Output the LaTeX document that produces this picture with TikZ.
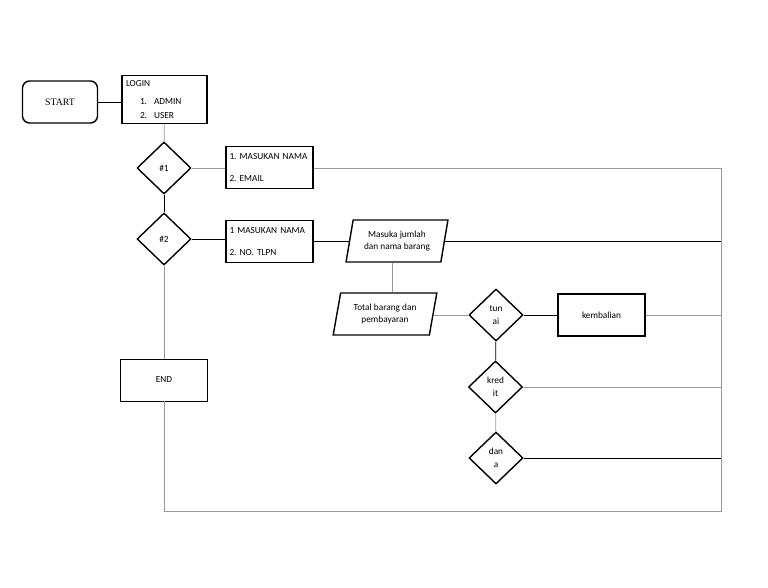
\documentclass[tikz,border=0pt]{standalone}
\usepackage{fontspec}
\setmainfont{Carlito}
\newfontfamily\startfont{Liberation Serif}
\usetikzlibrary{shapes.geometric}

\tikzset{
  txt/.style={font=\fontsize{5.3}{7.2}\selectfont\frenchspacing},
  box/.style={draw, thick, txt, minimum width=1.74cm, minimum height=0.84cm, inner sep=1pt},
  decision/.style={diamond, draw, thick, txt, minimum width=1.08cm, minimum height=1.04cm, inner sep=0pt, align=center},
  data/.style={trapezium, trapezium left angle=77, trapezium right angle=103, trapezium stretches=true,
    draw, thick, txt, minimum height=0.84cm, inner sep=1pt, align=center},
  grayline/.style={draw=black!40},
  blackline/.style={draw=black}
}

\begin{document}
\begin{tikzpicture}[x=0.02cm, y=-0.02cm]
	\useasboundingbox (0,0) rectangle (768,588);

	% start and login
	\node[box, rounded corners=4pt, minimum width=1.5cm, font=\startfont\fontsize{5.6}{7}\selectfont] (start) at (60,102) {START};
	\node[box, minimum width=1.7cm, minimum height=0.96cm, align=left, inner xsep=0.08cm, text width=1.54cm] (login) at (164.5,99.5)
		{LOGIN\\[3pt]\hspace{0.28cm}1.\hspace{0.14cm}ADMIN\\[0.8pt]\hspace{0.28cm}2.\hspace{0.14cm}USER};

	% choices
	\node[decision] (d1) at (164,168) {\#1};
	\node[decision] (d2) at (164,239) {\#2};
	\node[box, align=left, inner xsep=0.05cm, text width=1.6cm] (nama1) at (269.5,167.5) {1. MASUKAN NAMA\\[5pt]2. EMAIL};
	\node[box, align=left, inner xsep=0.05cm, text width=1.6cm] (nama2) at (269.5,241.5) {1 MASUKAN NAMA\\[5pt]2. NO. TLPN};
	\node[box, thin] (end) at (164,380) {END};

	% barang and payment
	\node[data, minimum width=2.04cm] (barang) at (397,241) {Masuka jumlah\\dan nama barang};
	\node[data, minimum width=2.08cm] (total) at (385,314) {Total barang dan\\pembayaran};
	\node[decision] (tunai) at (496,315) {tun\\ai};
	\node[decision] (kredit) at (495.5,387) {kred\\it};
	\node[decision] (dana) at (496,458) {dan\\a};
	\node[box] (kembali) at (601.5,315) {kembalian};

	\coordinate (rtop) at (721,168);
	\coordinate (rbot) at (721,511);
	\coordinate (lbot) at (164,511);

	% connectors
	\draw[blackline] (start.east) -- (start.east -| login.west);
	\draw[grayline] (login) -- (d1);
	\draw[grayline] (d1.east) -- (d1.east -| nama1.west);
	\draw[grayline] (d1.east -| nama1.east) -- (rtop) -- (rbot) -- (lbot) -- (end);
	\draw[blackline] (d1) -- (d2);
	\draw[grayline] (d2) -- (end);
	\draw[blackline] (d2.east) -- (d2.east -| nama2.west);
	\draw[blackline] (nama2.east) -- (nama2.east -| barang.west);
	\draw[blackline] (barang.east) -- (barang.east -| rtop);
	\draw[grayline] ([xshift=-0.1cm]barang.south) -- ([xshift=-0.1cm]barang.south |- total.north);
	\draw[grayline] (tunai.west) -- (tunai.west -| total.east);
	\draw[blackline] (tunai) -- (kembali);
	\draw[grayline] (kembali.east) -- (kembali.east -| rtop);
	\draw[blackline] (tunai) -- (kredit);
	\draw[grayline] (kredit.east) -- (kredit.east -| rtop);
	\draw[grayline] (kredit) -- (dana);
	\draw[blackline] (dana.east) -- (dana.east -| rtop);
\end{tikzpicture}
\end{document}
